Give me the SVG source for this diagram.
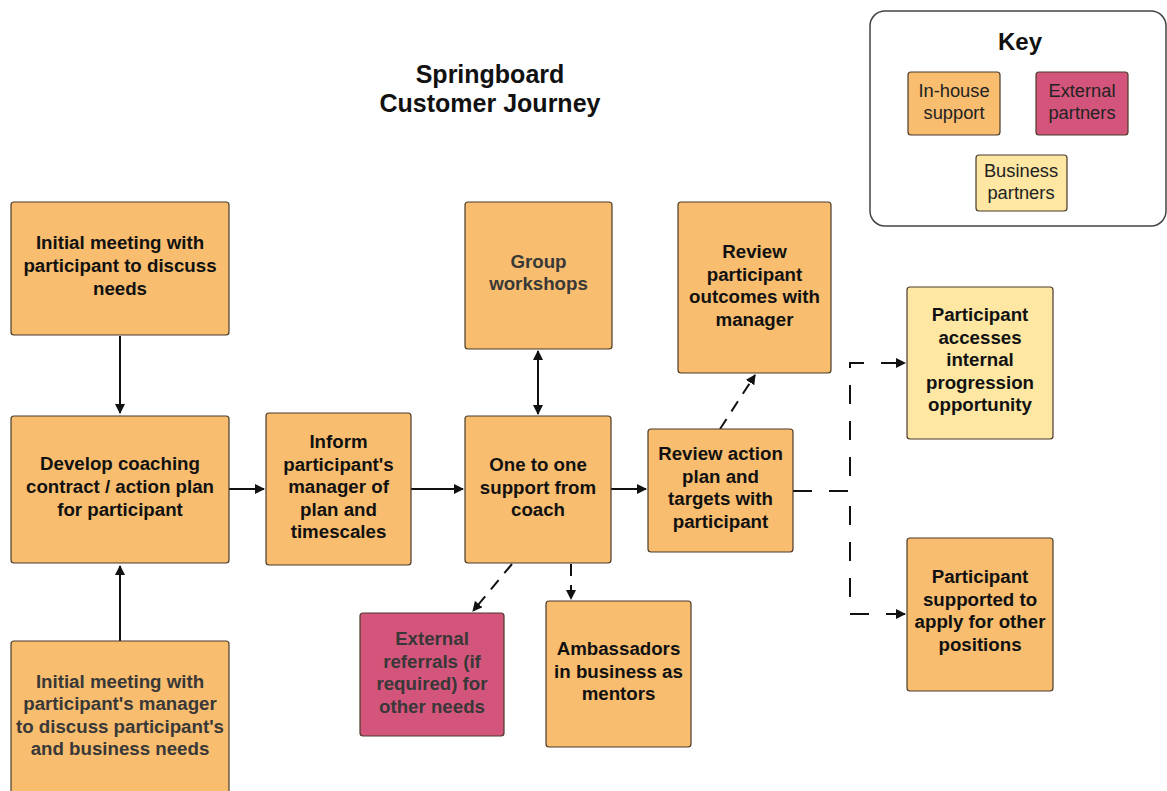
<svg xmlns="http://www.w3.org/2000/svg" width="1167" height="791" viewBox="0 0 1167 791">
<style>
.n{stroke:#4a3a2a;stroke-width:1.2}
.o{fill:#f8bd6e}
.m{fill:#d4557c}
.y{fill:#fde7a3}
text{font-family:"Liberation Sans",Arial,sans-serif;text-anchor:middle}
.t{font-size:18.7px;font-weight:bold;fill:#111}
.g{fill:#383838}
.k{font-size:18.3px;fill:#222}
.c{fill:none;stroke:#111;stroke-width:2}
.d{stroke-dasharray:12 9}
.dl{stroke-dasharray:19 17}
</style>
<defs>
<marker id="ah" viewBox="0 0 10 10" refX="9" refY="5" markerWidth="5" markerHeight="5" orient="auto-start-reverse" markerUnits="strokeWidth">
<path d="M0,0 L10,5 L0,10 z" fill="#111"/>
</marker>
</defs>
<rect width="1167" height="791" fill="#fff"/>
<g id="title">
<text x="490" y="83" style="font-size:25px;font-weight:bold;fill:#111">Springboard</text>
<text x="490" y="112" style="font-size:25px;font-weight:bold;fill:#111">Customer Journey</text>
</g>
<g id="key">
<rect x="870" y="11" width="296" height="215" rx="15" fill="#fff" stroke="#444" stroke-width="1.5"/>
<text x="1020" y="50" style="font-size:24px;font-weight:bold;fill:#111">Key</text>
<rect class="n o" x="908" y="72" width="92" height="63" rx="3"/>
<text class="k" x="954" y="97">In-house</text>
<text class="k" x="954" y="119">support</text>
<rect class="n m" x="1036" y="72" width="92" height="63" rx="3"/>
<text class="k" x="1082" y="97">External</text>
<text class="k" x="1082" y="119">partners</text>
<rect class="n y" x="976" y="155" width="91" height="56" rx="3"/>
<text class="k" x="1021" y="177">Business</text>
<text class="k" x="1021" y="199">partners</text>
</g>
<g id="connectors">
<path class="c" d="M120,336 V413" marker-end="url(#ah)"/>
<path class="c" d="M120,641 V566" marker-end="url(#ah)"/>
<path class="c" d="M229,489 H264" marker-end="url(#ah)"/>
<path class="c" d="M411,489 H463" marker-end="url(#ah)"/>
<path class="c" d="M538,351 V414" marker-start="url(#ah)" marker-end="url(#ah)"/>
<path class="c" d="M611,489 H646" marker-end="url(#ah)"/>
<path class="c d" d="M720,429 L755,375" marker-end="url(#ah)"/>
<path class="c d" d="M512,564 L473,611" marker-end="url(#ah)"/>
<path class="c d" d="M571,564 V599" marker-end="url(#ah)"/>
<path class="c dl" d="M793,491 H850 V363 H905" marker-end="url(#ah)"/>
<path class="c dl" d="M793,491 H850 V614 H905" marker-end="url(#ah)"/>
</g>
<g id="n1">
<rect class="n o" x="11" y="202" width="218" height="133" rx="3"/>
<text class="t" x="120" y="249">Initial meeting with</text>
<text class="t" x="120" y="272">participant to discuss</text>
<text class="t" x="120" y="295">needs</text>
</g>
<g id="n2">
<rect class="n o" x="11" y="416" width="218" height="147" rx="3"/>
<text class="t" x="120" y="470">Develop coaching</text>
<text class="t" x="120" y="493">contract / action plan</text>
<text class="t" x="120" y="516">for participant</text>
</g>
<g id="n3">
<rect class="n o" x="11" y="641" width="218" height="160" rx="3"/>
<text class="t g" x="120" y="688">Initial meeting with</text>
<text class="t g" x="120" y="710">participant's manager</text>
<text class="t g" x="120" y="733">to discuss participant's</text>
<text class="t g" x="120" y="755">and business needs</text>
</g>
<g id="n4">
<rect class="n o" x="266" y="413" width="145" height="152" rx="3"/>
<text class="t" x="338.5" y="448">Inform</text>
<text class="t" x="338.5" y="470.5">participant's</text>
<text class="t" x="338.5" y="493">manager of</text>
<text class="t" x="338.5" y="515.5">plan and</text>
<text class="t" x="338.5" y="538">timescales</text>
</g>
<g id="n5">
<rect class="n o" x="465" y="416" width="146" height="147" rx="3"/>
<text class="t" x="538" y="471">One to one</text>
<text class="t" x="538" y="493.5">support from</text>
<text class="t" x="538" y="516">coach</text>
</g>
<g id="n6">
<rect class="n o" x="465" y="202" width="147" height="147" rx="3"/>
<text class="t g" x="538.5" y="268">Group</text>
<text class="t g" x="538.5" y="290">workshops</text>
</g>
<g id="n7">
<rect class="n o" x="678" y="202" width="153" height="171" rx="3"/>
<text class="t" x="754.5" y="258">Review</text>
<text class="t" x="754.5" y="280.5">participant</text>
<text class="t" x="754.5" y="303">outcomes with</text>
<text class="t" x="754.5" y="325.5">manager</text>
</g>
<g id="n8">
<rect class="n o" x="648" y="429" width="145" height="123" rx="3"/>
<text class="t" x="720.5" y="460">Review action</text>
<text class="t" x="720.5" y="482.5">plan and</text>
<text class="t" x="720.5" y="505">targets with</text>
<text class="t" x="720.5" y="527.5">participant</text>
</g>
<g id="n9">
<rect class="n m" x="360" y="613" width="144" height="123" rx="3"/>
<text class="t g" x="432" y="645">External</text>
<text class="t g" x="432" y="667.5">referrals (if</text>
<text class="t g" x="432" y="690">required) for</text>
<text class="t g" x="432" y="712.5">other needs</text>
</g>
<g id="n10">
<rect class="n o" x="546" y="601" width="145" height="146" rx="3"/>
<text class="t" x="618.5" y="655">Ambassadors</text>
<text class="t" x="618.5" y="677.5">in business as</text>
<text class="t" x="618.5" y="700">mentors</text>
</g>
<g id="n11">
<rect class="n y" x="907" y="287" width="146" height="152" rx="3"/>
<text class="t" x="980" y="321">Participant</text>
<text class="t" x="980" y="343.5">accesses</text>
<text class="t" x="980" y="366">internal</text>
<text class="t" x="980" y="388.5">progression</text>
<text class="t" x="980" y="411">opportunity</text>
</g>
<g id="n12">
<rect class="n o" x="907" y="538" width="146" height="153" rx="3"/>
<text class="t" x="980" y="583">Participant</text>
<text class="t" x="980" y="605.5">supported to</text>
<text class="t" x="980" y="628">apply for other</text>
<text class="t" x="980" y="650.5">positions</text>
</g>
</svg>
